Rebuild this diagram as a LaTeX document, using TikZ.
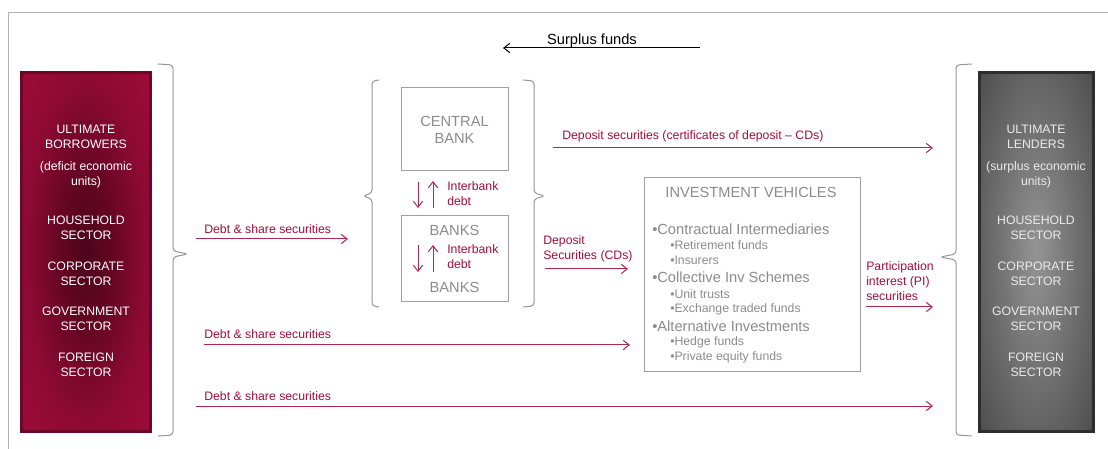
\documentclass[tikz,border=0pt]{standalone}
\usepackage{fontspec}
\setmainfont{Liberation Sans}
\usepackage{tikz}
\usetikzlibrary{arrows.meta}
\definecolor{crimson}{RGB}{166,12,60}
\definecolor{flowred}{RGB}{178,38,80}
\definecolor{darkcrimson}{RGB}{110,6,40}
\definecolor{boxgrey}{RGB}{160,160,160}
\definecolor{textgrey}{RGB}{140,140,140}
\definecolor{bracegrey}{RGB}{150,150,150}
\pgfdeclareradialshading{borrowerglow}{\pgfpoint{0bp}{0bp}}{color(0bp)=(darkcrimson!70!black); color(10bp)=(darkcrimson!90!black); color(24bp)=(crimson!85!black); color(36bp)=(crimson!95!black); color(100bp)=(crimson!95!black)}
\pgfdeclareradialshading{lenderglow}{\pgfpoint{0bp}{0bp}}{color(0bp)=(black!42); color(18bp)=(black!56); color(40bp)=(black!72); color(100bp)=(black!76)}
\newcommand{\smallfont}{\fontsize{9.2}{11.25}\selectfont}
\newcommand{\bigfont}{\fontsize{11}{12.75}\selectfont}
\tikzstyle{Sector}=[text=white, font=\smallfont, align=center, inner sep=0]
\tikzstyle{Lender}=[text=black!8, font=\smallfont, align=center, inner sep=0]
\tikzstyle{Institution}=[draw=boxgrey, line width=0.75pt, fill=white, inner sep=0]
\tikzstyle{Inst text}=[text=textgrey, font=\bigfont, align=center, inner sep=0]
\tikzstyle{Item}=[text=textgrey, font=\bigfont, anchor=west, inner sep=0]
\tikzstyle{Subitem}=[text=textgrey, font=\smallfont, anchor=west, inner sep=0]
\tikzstyle{Bracket}=[draw=bracegrey, line width=0.75pt, rounded corners=2.5pt]
\tikzstyle{flow}=[-{Straight Barb[length=4.5pt, width=7pt]}, draw=flowred, line width=0.75pt]
\tikzstyle{flow label}=[text=crimson, font=\smallfont, align=left, anchor=west, inner sep=0]
\pgfdeclarelayer{nodelayer}
\pgfdeclarelayer{edgelayer}
\pgfsetlayers{nodelayer, edgelayer}

\begin{document}
\begin{tikzpicture}[x=0.75pt, y=-0.75pt]
	\useasboundingbox (0,0) rectangle (1108,449);
	\begin{pgfonlayer}{nodelayer}
		\draw [draw=black!30, line width=0.75pt] (8,449) -- (8,13) -- (1108,13);
		% ultimate borrowers
		\node [fill=darkcrimson, minimum width=99pt, minimum height=271.5pt, inner sep=0] (borrowers) at (86,252) {};
		\shade [shading=borrowerglow] ([shift={(3pt,-3pt)}]borrowers.north west) rectangle ([shift={(-3pt,3pt)}]borrowers.south east);
		\node [style=Sector] (bor_title) at (86,136.5) {ULTIMATE\\BORROWERS};
		\node [style=Sector] (bor_units) at (86,174.5) {(deficit economic\\units)};
		\node [style=Sector] (bor_house) at (86,227.5) {HOUSEHOLD\\SECTOR};
		\node [style=Sector] (bor_corp) at (86,273.5) {CORPORATE\\SECTOR};
		\node [style=Sector] (bor_gov) at (86,318.5) {GOVERNMENT\\SECTOR};
		\node [style=Sector] (bor_for) at (86,364.5) {FOREIGN\\SECTOR};
		% ultimate lenders
		\node [fill=black!82, minimum width=87.75pt, minimum height=271.5pt, inner sep=0] (lenders) at (1036.5,252) {};
		\shade [shading=lenderglow] ([shift={(3pt,-3pt)}]lenders.north west) rectangle ([shift={(-3pt,3pt)}]lenders.south east);
		\node [style=Lender] (len_title) at (1036,136.5) {ULTIMATE\\LENDERS};
		\node [style=Lender] (len_units) at (1036,174.5) {(surplus economic\\units)};
		\node [style=Lender] (len_house) at (1036,227.5) {HOUSEHOLD\\SECTOR};
		\node [style=Lender] (len_corp) at (1036,273.5) {CORPORATE\\SECTOR};
		\node [style=Lender] (len_gov) at (1036,318.5) {GOVERNMENT\\SECTOR};
		\node [style=Lender] (len_for) at (1036,364.5) {FOREIGN\\SECTOR};
		% banking sector
		\node [style=Institution, minimum width=80.25pt, minimum height=62.25pt] (central) at (454.5,129.5) {};
		\node [style=Inst text] (central_text) at (454.5,129.5) {CENTRAL\\BANK};
		\node [style=Institution, minimum width=80.25pt, minimum height=64.5pt] (banks) at (454.5,259) {};
		\node [style=Inst text] (banks_top) at (454.5,230) {BANKS};
		\node [style=Inst text] (banks_bottom) at (454.5,287) {BANKS};
		% investment vehicles
		\node [style=Institution, minimum width=162pt, minimum height=144.75pt] (vehicles) at (752,274.5) {};
		\node [style=Inst text] (vehicles_title) at (751,192) {INVESTMENT VEHICLES};
		\node [style=Item] (contractual) at (652,229) {•Contractual Intermediaries};
		\node [style=Subitem] (retirement) at (670,245) {•Retirement funds};
		\node [style=Subitem] (insurers) at (670,260) {•Insurers};
		\node [style=Item] (collective) at (652,277) {•Collective Inv Schemes};
		\node [style=Subitem] (unit) at (670,294) {•Unit trusts};
		\node [style=Subitem] (etf) at (670,309) {•Exchange traded funds};
		\node [style=Item] (alternative) at (652,326) {•Alternative Investments};
		\node [style=Subitem] (hedge) at (670,342) {•Hedge funds};
		\node [style=Subitem] (private) at (670,357) {•Private equity funds};
	\end{pgfonlayer}
	\begin{pgfonlayer}{edgelayer}
		% brackets
		\draw [style=Bracket] (158,64) -- (173,65) -- (173,251) -- (188,254) -- (173,257) -- (173,435) -- (158,436);
		\draw [style=Bracket] (379,80) -- (372,81) -- (372,193) -- (363,196) -- (372,199) -- (372,306) -- (379,307);
		\draw [style=Bracket] (523,80) -- (534,81) -- (534,193) -- (545,196) -- (534,199) -- (534,306) -- (523,307);
		\draw [style=Bracket] (972,64) -- (956,65) -- (956,254) -- (940,257) -- (956,260) -- (956,435) -- (972,436);
		% arrow ends
		\coordinate (surplus_from) at (700,48);
		\coordinate (surplus_to) at (503,48);
		\coordinate (debt_a_from) at (196,239);
		\coordinate (debt_a_to) at (348,239);
		\coordinate (debt_b_from) at (204,345);
		\coordinate (debt_b_to) at (630,345);
		\coordinate (debt_c_from) at (196,406);
		\coordinate (debt_c_to) at (933,406);
		\coordinate (deposit_from) at (553,148);
		\coordinate (deposit_to) at (933,148);
		\coordinate (cds_from) at (545,269);
		\coordinate (cds_to) at (628,269);
		\coordinate (pi_from) at (866,307);
		\coordinate (pi_to) at (933,307);
		\coordinate (ib_down_a) at (418,182);
		\coordinate (ib_down_b) at (418,208);
		\coordinate (ib_up_a) at (433,208);
		\coordinate (ib_up_b) at (433,181);
		\coordinate (bb_down_a) at (418,245);
		\coordinate (bb_down_b) at (418,272);
		\coordinate (bb_up_a) at (433,272);
		\coordinate (bb_up_b) at (433,245);
		% flows
		\draw [style=flow, draw=black] (surplus_from) to (surplus_to);
		\node [font=\bigfont, inner sep=0] (surplus) at (592,41) {Surplus funds};
		\draw [style=flow] (debt_a_from) to (debt_a_to);
		\node [style=flow label] (debt_a) at (204,229) {Debt \& share securities};
		\draw [style=flow] (debt_b_from) to (debt_b_to);
		\node [style=flow label] (debt_b) at (204,334) {Debt \& share securities};
		\draw [style=flow] (debt_c_from) to (debt_c_to);
		\node [style=flow label] (debt_c) at (204,396) {Debt \& share securities};
		\draw [style=flow] (deposit_from) to (deposit_to);
		\node [style=flow label] (deposit) at (562,136) {Deposit securities (certificates of deposit -- CDs)};
		\draw [style=flow] (cds_from) to (cds_to);
		\node [style=flow label] (cds) at (543,248.5) {Deposit\\Securities (CDs)};
		\draw [style=flow] (pi_from) to (pi_to);
		\node [style=flow label] (pi) at (866,281.5) {Participation\\interest (PI)\\securities};
		% interbank debt
		\draw [style=flow] (ib_down_a) to (ib_down_b);
		\draw [style=flow] (ib_up_a) to (ib_up_b);
		\node [style=flow label] (interbank_a) at (447,193.5) {Interbank\\debt};
		\draw [style=flow] (bb_down_a) to (bb_down_b);
		\draw [style=flow] (bb_up_a) to (bb_up_b);
		\node [style=flow label] (interbank_b) at (447,256.5) {Interbank\\debt};
	\end{pgfonlayer}
\end{tikzpicture}
\end{document}
